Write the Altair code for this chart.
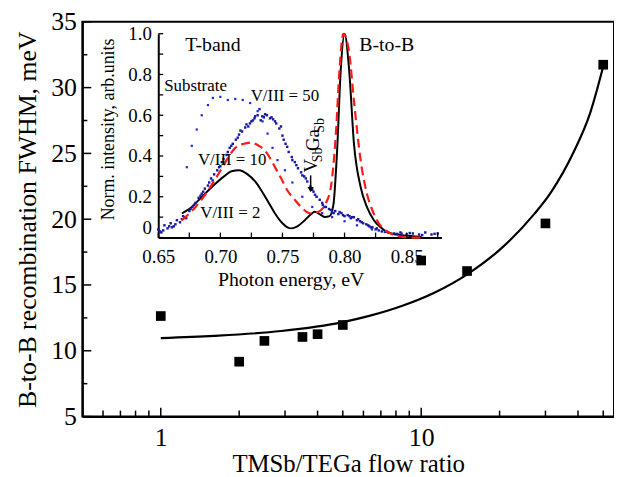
import altair as alt
import pandas as pd

# ---------------- main panel data ----------------
ratio = [1, 2, 2.5, 3.5, 4, 5, 10, 15, 30, 50]
fwhm = [12.64, 9.17, 10.75, 11.05, 11.26, 11.96, 16.86, 16.06, 19.68, 31.74]

fit_ratio = [1, 1.6, 2.9, 5, 6.32, 8.47, 11.33, 15.17, 20.3, 27.2, 31.4, 38.5, 44.6, 50]
fit_fwhm = [10.96, 11.13, 11.5, 12.18, 12.65, 13.42, 14.45, 15.87, 17.78, 20.4, 22.0, 25.1, 28.1, 31.6]

x_major = [1, 10]
x_minor = [0.6, 0.7, 0.8, 0.9, 2, 3, 4, 5, 6, 7, 8, 9, 20, 30, 40, 50]
y_major = [5, 10, 15, 20, 25, 30, 35]
y_minor = [7.5, 12.5, 17.5, 22.5, 27.5, 32.5]

# ---------------- inset data ----------------
e_v2 = [0.669, 0.677, 0.685, 0.696, 0.703, 0.709, 0.715, 0.722, 0.728, 0.733, 0.739, 0.744,
        0.750, 0.754, 0.757, 0.762, 0.768, 0.773, 0.776, 0.780, 0.784, 0.788, 0.791, 0.794,
        0.797, 0.800, 0.8036, 0.8076, 0.813, 0.818, 0.8236, 0.829, 0.834, 0.845, 0.855, 0.862]
i_v2 = [0.118, 0.150, 0.199, 0.264, 0.300, 0.325, 0.330, 0.310, 0.275, 0.231, 0.170, 0.118,
        0.070, 0.050, 0.045, 0.055, 0.085, 0.115, 0.126, 0.115, 0.101, 0.105, 0.160, 0.426,
        0.830, 1.000, 0.830, 0.458, 0.247, 0.150, 0.085, 0.050, 0.028, 0.012, 0.007, 0.003]

e_v10 = [0.669, 0.680, 0.690, 0.700, 0.706, 0.712, 0.719, 0.725, 0.731, 0.736, 0.740, 0.744,
         0.749, 0.754, 0.760, 0.765, 0.773, 0.778, 0.781, 0.785, 0.789, 0.793, 0.796, 0.799,
         0.8036, 0.8076, 0.813, 0.818, 0.822, 0.826, 0.831, 0.837, 0.845, 0.852, 0.862]
i_v10 = [0.085, 0.150, 0.230, 0.328, 0.390, 0.440, 0.460, 0.466, 0.450, 0.426, 0.390, 0.345,
         0.290, 0.231, 0.185, 0.150, 0.118, 0.125, 0.134, 0.170, 0.247, 0.507, 0.830, 1.000,
         0.912, 0.669, 0.377, 0.215, 0.140, 0.085, 0.045, 0.020, 0.005, 0.000, 0.000]

e_v50 = [0.6500, 0.6525, 0.6550, 0.6575, 0.6600, 0.6625, 0.6650, 0.6675, 0.6700, 0.6725,
         0.6750, 0.6775, 0.6800, 0.6825, 0.6850, 0.6875, 0.6900, 0.6925, 0.6950, 0.6975,
         0.7000, 0.7025, 0.7050, 0.7075, 0.7100, 0.7125, 0.7150, 0.7175, 0.7200, 0.7225,
         0.7250, 0.7275, 0.7300, 0.7315, 0.7325, 0.7350, 0.7375, 0.7400, 0.7425, 0.7450,
         0.7475, 0.7500, 0.7525, 0.7550, 0.7575, 0.7600, 0.7625, 0.7650, 0.7675, 0.7700,
         0.7725, 0.7750, 0.7775, 0.7800, 0.7825, 0.7850, 0.7875, 0.7900, 0.7925, 0.7950,
         0.7975, 0.8000, 0.8025, 0.8050, 0.8075, 0.8100, 0.8125, 0.8150, 0.8175, 0.8200,
         0.8225, 0.8250, 0.8275, 0.8300, 0.8350, 0.8400, 0.8450, 0.8500, 0.8550, 0.8600,
         0.8650, 0.8700, 0.8750,
         0.6540, 0.6610, 0.6690, 0.6760, 0.6840, 0.6910, 0.6990, 0.7060, 0.7140, 0.7210,
         0.7280, 0.7360, 0.7440, 0.7510, 0.7580, 0.7660, 0.7740, 0.7820, 0.7890, 0.7960,
         0.8040, 0.8110, 0.8190, 0.8260,
         0.6515, 0.6588, 0.6638, 0.6712, 0.6788, 0.6862, 0.6938, 0.7012, 0.7088, 0.7162,
         0.7238, 0.7262, 0.7338, 0.7412, 0.7488, 0.7538, 0.7612, 0.7688, 0.7762, 0.7838,
         0.7912, 0.7988, 0.8062, 0.8138, 0.8212, 0.8325, 0.8425, 0.8525, 0.8625, 0.8725]
i_v50 = [0.040, 0.025, 0.060, 0.045, 0.070, 0.055, 0.085, 0.075, 0.105, 0.095,
         0.130, 0.150, 0.170, 0.195, 0.215, 0.240, 0.255, 0.290, 0.310, 0.330,
         0.350, 0.385, 0.405, 0.440, 0.460, 0.480, 0.505, 0.520, 0.540, 0.545,
         0.570, 0.585, 0.600, 0.630, 0.575, 0.590, 0.600, 0.585, 0.580, 0.560,
         0.535, 0.500, 0.460, 0.420, 0.395, 0.370, 0.340, 0.320, 0.300, 0.275,
         0.250, 0.225, 0.200, 0.185, 0.160, 0.150, 0.140, 0.125, 0.130, 0.115,
         0.120, 0.105, 0.110, 0.095, 0.100, 0.085, 0.080, 0.070, 0.065, 0.055,
         0.050, 0.040, 0.035, 0.030, 0.025, 0.020, 0.025, 0.015, 0.020, 0.015,
         0.025, 0.015, 0.020,
         0.035, 0.050, 0.090, 0.140, 0.205, 0.270, 0.345, 0.420, 0.490, 0.555,
         0.595, 0.605, 0.570, 0.480, 0.380, 0.305, 0.235, 0.170, 0.135, 0.125,
         0.105, 0.090, 0.060, 0.045,
         0.030, 0.055, 0.065, 0.100, 0.160, 0.225, 0.280, 0.370, 0.450, 0.525,
         0.560, 0.575, 0.595, 0.590, 0.545, 0.445, 0.355, 0.290, 0.210, 0.150,
         0.120, 0.110, 0.100, 0.075, 0.050, 0.028, 0.018, 0.022, 0.012, 0.018]

e_sub = [0.673, 0.677, 0.681, 0.685, 0.690, 0.694, 0.700, 0.706, 0.712, 0.718, 0.724, 0.730,
         0.734, 0.738, 0.742, 0.746, 0.752, 0.758, 0.766, 0.774, 0.782, 0.790, 0.800, 0.810,
         0.822, 0.834, 0.846]
i_sub = [0.345, 0.450, 0.530, 0.600, 0.650, 0.685, 0.690, 0.675, 0.680, 0.675, 0.660, 0.620,
         0.570, 0.510, 0.440, 0.380, 0.330, 0.270, 0.200, 0.150, 0.120, 0.100, 0.080, 0.060,
         0.040, 0.030, 0.020]

ix_ticks = [0.65, 0.675, 0.70, 0.725, 0.75, 0.775, 0.80, 0.825, 0.85, 0.875]
ix_labels = [0.65, 0.70, 0.75, 0.80, 0.85]
iy_ticks = [0.0, 0.1, 0.2, 0.3, 0.4, 0.5, 0.6, 0.7, 0.8, 0.9, 1.0]
iy_labels = [0.0, 0.2, 0.4, 0.6, 0.8, 1.0]

lab_text = ["T-band", "B-to-B", "Substrate", "V/III = 50", "V/III = 10", "V/III = 2"]
lab_e = [0.694, 0.834, 0.680, 0.752, 0.7095, 0.708]
lab_i = [0.946, 0.946, 0.742, 0.693, 0.380, 0.121]
lab_size = [20, 20, 17, 17, 17, 17]

def_text = ["V", "Sb", "Ga", "Sb"]
def_e = [0.7727, 0.7790, 0.7743, 0.7800]
def_i = [0.352, 0.405, 0.478, 0.550]
def_size = [19, 14, 19, 14]

arrow_e = [0.7727, 0.7727]
arrow_i = [0.305, 0.235]

FONT = "Liberation Serif"
W, H = 536, 398

# ---------------- main panel ----------------
xs = alt.Scale(type="log", domain=[0.5, 55], nice=False)
ys = alt.Scale(domain=[5, 35], nice=False, zero=False)

df_pts = pd.DataFrame({"r": ratio, "w": fwhm})
df_fit = pd.DataFrame({"r": fit_ratio, "w": fit_fwhm})

pts = alt.Chart(df_pts).mark_square(size=95, color="black", opacity=1).encode(
    x=alt.X("r:Q", scale=xs, axis=alt.Axis(
        orient="bottom", values=x_major, format="~g", title="TMSb/TEGa flow ratio",
        ticks=False, tickSize=0, grid=False, labelFont=FONT, labelFontSize=26,
        labelColor="black", labelPadding=8, titleFont=FONT, titleFontSize=25,
        titleFontWeight="normal", titleColor="black", titlePadding=1,
        domainColor="black", domainWidth=2, labelFlush=False)),
    y=alt.Y("w:Q", scale=ys, axis=alt.Axis(
        orient="left", values=y_major, title="B-to-B recombination FWHM, meV",
        ticks=False, tickSize=0, grid=False, labelFont=FONT, labelFontSize=26,
        labelColor="black", labelPadding=6, titleFont=FONT, titleFontSize=26,
        titleFontWeight="normal", titleColor="black", titlePadding=10,
        domainColor="black", domainWidth=2, labelFlush=False)),
)

fit = alt.Chart(df_fit).mark_line(color="black", strokeWidth=2.2, interpolate="monotone").encode(
    x=alt.X("r:Q", scale=xs, axis=None),
    y=alt.Y("w:Q", scale=ys, axis=None),
)

def xtick_layer(vals, length):
    return alt.Chart(pd.DataFrame({"r": vals})).mark_rule(color="black", strokeWidth=1.5).encode(
        x=alt.X("r:Q", scale=xs, axis=None),
        y=alt.value(H), y2=alt.value(H - length))

def ytick_layer(vals, length):
    return alt.Chart(pd.DataFrame({"w": vals})).mark_rule(color="black", strokeWidth=1.5).encode(
        y=alt.Y("w:Q", scale=ys, axis=None),
        x=alt.value(0), x2=alt.value(length))

# ---------------- inset ----------------
IX0, IX1 = 76.5, 362.0
IY0, IY1 = 217.5, 12.0
ixs = alt.Scale(domain=[0.65, 0.878], range=[IX0, IX1], nice=False, zero=False)
iys = alt.Scale(domain=[0, 1.0], range=[IY0, IY1], nice=False, zero=False)

df_v2 = pd.DataFrame({"E": e_v2, "I": i_v2})
df_v10 = pd.DataFrame({"E": e_v10, "I": i_v10})
df_v50 = pd.DataFrame({"E": e_v50, "I": i_v50})
df_sub = pd.DataFrame({"E": e_sub, "I": i_sub})

line2 = alt.Chart(df_v2).mark_line(color="black", strokeWidth=2, interpolate="monotone").encode(
    x=alt.X("E:Q", scale=ixs, axis=alt.Axis(
        orient="bottom", offset=-(H - IY0), values=ix_labels, format=".2f",
        title="Photon energy, eV", ticks=False, tickSize=0, grid=False,
        labelFont=FONT, labelFontSize=19, labelColor="black", labelPadding=10,
        titleFont=FONT, titleFontSize=20, titleFontWeight="normal", titleColor="black",
        titlePadding=3, titleX=210, domainColor="black", domainWidth=2, labelFlush=False)),
    y=alt.Y("I:Q", scale=iys, axis=alt.Axis(
        orient="left", offset=-IX0, values=iy_labels,
        labelExpr="datum.value == 0 ? '0' : format(datum.value, '.1f')",
        labelBaseline={"condition": {"test": "datum.value == 0", "value": "bottom"},
                       "value": "middle"},
        title="Norm. intensity, arb.units", ticks=False, tickSize=0, grid=False,
        labelFont=FONT, labelFontSize=19, labelColor="black", labelPadding=7,
        titleFont=FONT, titleFontSize=18, titleFontWeight="normal", titleColor="black",
        titlePadding=10, titleY=108, domainColor="black", domainWidth=2, labelFlush=False)),
    order="E:Q",
)

def plain_x():
    return alt.X("E:Q", scale=ixs, axis=None)

def plain_y():
    return alt.Y("I:Q", scale=iys, axis=None)

line10 = alt.Chart(df_v10).mark_line(color="#ff1a1a", strokeWidth=2.2, strokeDash=[9, 5],
                                     interpolate="monotone").encode(
    x=plain_x(), y=plain_y(), order="E:Q")

dots50 = alt.Chart(df_v50).mark_square(size=6, color="#1818a0", opacity=1).encode(
    x=plain_x(), y=plain_y())

dots_sub = alt.Chart(df_sub).mark_square(size=5, color="#2424e0", opacity=1).encode(
    x=plain_x(), y=plain_y())

labels = alt.Chart(pd.DataFrame({"t": lab_text, "E": lab_e, "I": lab_i, "s": lab_size})).mark_text(
    font=FONT, color="black", align="center", baseline="middle").encode(
    x=plain_x(), y=plain_y(), text="t:N",
    size=alt.Size("s:Q", scale=None, legend=None))

defect = alt.Chart(pd.DataFrame({"t": def_text, "E": def_e, "I": def_i, "s": def_size})).mark_text(
    font=FONT, color="black", align="center", baseline="middle", angle=270).encode(
    x=plain_x(), y=plain_y(), text="t:N",
    size=alt.Size("s:Q", scale=None, legend=None))

df_arrow = pd.DataFrame({"E": arrow_e, "I": arrow_i})
arrow_line = alt.Chart(df_arrow).mark_line(color="black", strokeWidth=1.5).encode(
    x=plain_x(), y=plain_y())
arrow_head = alt.Chart(df_arrow.iloc[[1]]).mark_point(
    shape="triangle-down", filled=True, size=40, color="black", opacity=1).encode(
    x=plain_x(), y=plain_y())

def ixtick_layer(vals, length):
    return alt.Chart(pd.DataFrame({"E": vals})).mark_rule(color="black", strokeWidth=1.3).encode(
        x=plain_x(), y=alt.value(IY0), y2=alt.value(IY0 - length))

def iytick_layer(vals, length):
    return alt.Chart(pd.DataFrame({"I": vals})).mark_rule(color="black", strokeWidth=1.3).encode(
        y=plain_y(), x=alt.value(IX0), x2=alt.value(IX0 + length))

chart = alt.layer(
    pts, fit, xtick_layer(x_major, 9), xtick_layer(x_minor, 6),
    ytick_layer(y_major, 9), ytick_layer(y_minor, 5),
    line2, dots_sub, dots50, line10, labels, defect, arrow_line, arrow_head,
    ixtick_layer(ix_ticks, 5), iytick_layer(iy_ticks, 5),
).resolve_scale(x="independent", y="independent").properties(
    width=W, height=H,
    autosize=alt.AutoSizeParams(type="none"),
    padding={"left": 75, "top": 12, "right": 0, "bottom": 59},
    background="white",
).configure_view(stroke="black", strokeWidth=2)

chart.save("out.html", embed_options={"renderer": "svg", "actions": False})
